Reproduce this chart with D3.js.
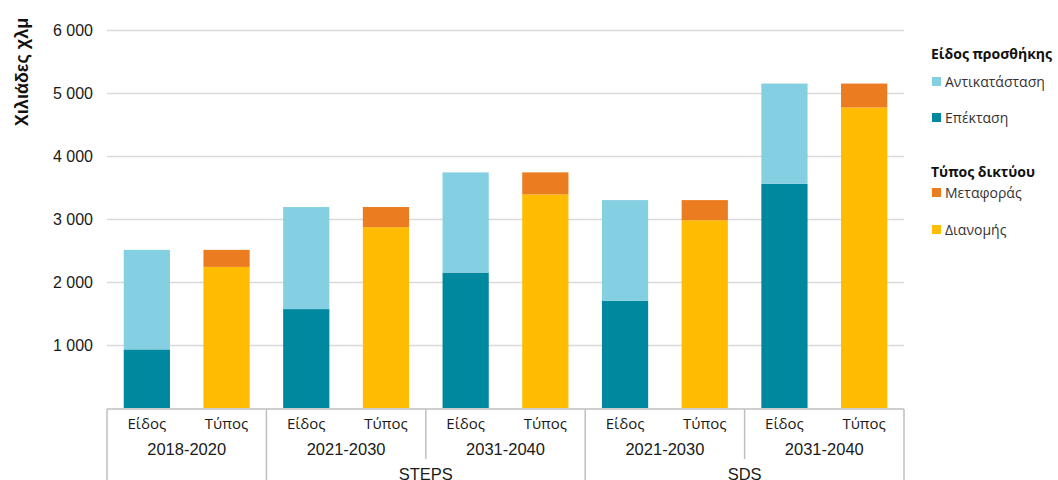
<!DOCTYPE html>
<html>
<head>
<meta charset="utf-8">
<script src="https://cdn.jsdelivr.net/npm/d3@7"></script>
<style>
  html, body { margin: 0; padding: 0; background: #ffffff; }
  svg { display: block; }
</style>
</head>
<body>
<svg id="chart" width="1058" height="480"></svg>
<script>
// Periods, scenarios and the two stacks per period (thousand km)
const periods     = ["2018-2020", "2021-2030", "2031-2040", "2021-2030", "2031-2040"];
const scenarios   = ["", "STEPS", "STEPS", "SDS", "SDS"];
const barKinds    = ["Είδος", "Τύπος"];
const replacement = [1580, 1620, 1590, 1600, 1590];   // Αντικατάσταση
const expansion   = [930, 1570, 2150, 1700, 3560];    // Επέκταση
const transmission = [270, 320, 350, 320, 380];       // Μεταφοράς
const distribution = [2240, 2870, 3390, 2980, 4770];  // Διανομής
const yTicks = [1000, 2000, 3000, 4000, 5000, 6000];

const colors = {
  replacement: "#85cfe2",
  expansion: "#00889e",
  transmission: "#eb7c1f",
  distribution: "#ffbc00"
};

const svg = d3.select("#chart");
const plotLeft = 107, plotRight = 904, plotTop = 30, plotBottom = 408;

// one slot per bar: two bars for every period
const slots = [];
periods.forEach((p, i) => barKinds.forEach((k, j) => slots.push({ i, kind: k, j })));

const x = d3.scaleBand().domain(slots.map((d, n) => n)).range([plotLeft, plotRight]).paddingInner(0.42).paddingOuter(0.21);
const y = d3.scaleLinear().domain([0, 6000]).range([plotBottom, plotTop]);

// gridlines and value labels
const yAxis = d3.axisLeft(y).tickValues(yTicks).tickSize(-(plotRight - plotLeft)).tickPadding(14)
  .tickFormat(d => d3.format(",")(d).replace(/,/g, " "));
const gy = svg.append("g").attr("transform", `translate(${plotLeft},0)`).call(yAxis);
gy.select(".domain").remove();
gy.selectAll(".tick line").attr("stroke", "#d9d9d9").attr("stroke-width", 1.5);
gy.selectAll(".tick text").attr("font-family", "Liberation Sans, Arial, sans-serif")
  .attr("font-size", 16).attr("fill", "#1a1a1a");

// axis title
svg.append("text")
  .attr("transform", "translate(28,72) rotate(-90)")
  .attr("text-anchor", "middle")
  .attr("font-family", "Liberation Sans, Arial, sans-serif")
  .attr("font-weight", "bold").attr("font-size", 18).attr("fill", "#111")
  .text("Χιλιάδες χλμ");

// stacked bars
const stacks = slots.map((s, n) => {
  const segs = s.j === 0
    ? [{ v: expansion[s.i], c: colors.expansion }, { v: replacement[s.i], c: colors.replacement }]
    : [{ v: distribution[s.i], c: colors.distribution }, { v: transmission[s.i], c: colors.transmission }];
  let acc = 0;
  return segs.map(g => { const r = { n, y0: acc, y1: acc + g.v, c: g.c }; acc += g.v; return r; });
}).flat();

svg.append("g").selectAll("rect").data(stacks).join("rect")
  .attr("x", d => x(d.n))
  .attr("width", x.bandwidth())
  .attr("y", d => y(d.y1))
  .attr("height", d => y(d.y0) - y(d.y1))
  .attr("fill", d => d.c);

// multi-level category axis
const axisG = svg.append("g");
const lineColor = "#bfbfbf";
const step = x.step();
const periodEdge = i => plotLeft + i * 2 * step;
axisG.append("line").attr("x1", plotLeft).attr("x2", plotRight).attr("y1", plotBottom + 1).attr("y2", plotBottom + 1)
  .attr("stroke", lineColor).attr("stroke-width", 1.5);

// vertical separators: full height where the scenario changes, shorter inside a scenario
for (let i = 0; i <= periods.length; i++) {
  const xe = periodEdge(i);
  const full = i === 0 || i === periods.length || scenarios[i] !== scenarios[i - 1];
  axisG.append("line").attr("x1", xe).attr("x2", xe).attr("y1", plotBottom + 1).attr("y2", full ? 480 : 459)
    .attr("stroke", lineColor).attr("stroke-width", 1.5);
}

axisG.selectAll("text.kind").data(slots).join("text").attr("class", "kind")
  .attr("x", (d, n) => x(n) + x.bandwidth() / 2)
  .attr("y", 429)
  .attr("text-anchor", "middle")
  .attr("font-family", "Open Sans, Noto Sans, sans-serif")
  .attr("font-size", 15).attr("fill", "#1a1a1a")
  .text(d => d.kind);

axisG.selectAll("text.period").data(periods).join("text").attr("class", "period")
  .attr("x", (d, i) => periodEdge(i) + step)
  .attr("y", 455)
  .attr("text-anchor", "middle")
  .attr("font-family", "Liberation Sans, Arial, sans-serif")
  .attr("font-size", 16.5).attr("fill", "#1a1a1a")
  .text(d => d);

const scenarioNames = Array.from(new Set(scenarios.filter(s => s)));
scenarioNames.forEach(s => {
  const idx = scenarios.map((v, i) => v === s ? i : -1).filter(i => i >= 0);
  const cx = (periodEdge(idx[0]) + periodEdge(idx[idx.length - 1] + 1)) / 2;
  axisG.append("text").attr("x", cx).attr("y", 480)
    .attr("text-anchor", "middle")
    .attr("font-family", "Liberation Sans, Arial, sans-serif")
    .attr("font-size", 16.5).attr("fill", "#1a1a1a")
    .text(s);
});

// legend
const legend = svg.append("g").attr("font-family", "Open Sans, Noto Sans, sans-serif");
const legendItems = [
  { title: "Είδος προσθήκης", y: 59 },
  { label: "Αντικατάσταση", c: colors.replacement, y: 82 },
  { label: "Επέκταση", c: colors.expansion, y: 118 },
  { title: "Τύπος δικτύου", y: 177 },
  { label: "Μεταφοράς", c: colors.transmission, y: 193 },
  { label: "Διανομής", c: colors.distribution, y: 230 }
];
legendItems.forEach(it => {
  if (it.title) {
    legend.append("text").attr("x", 931).attr("y", it.y)
      .attr("font-weight", "bold").attr("font-size", 14).attr("fill", "#111").text(it.title);
  } else {
    legend.append("rect").attr("x", 932).attr("y", it.y - 5).attr("width", 9).attr("height", 9).attr("fill", it.c);
    legend.append("text").attr("x", 945).attr("y", it.y + 5)
      .attr("font-size", 14).attr("fill", "#333").text(it.label);
  }
});
</script>
</body>
</html>
